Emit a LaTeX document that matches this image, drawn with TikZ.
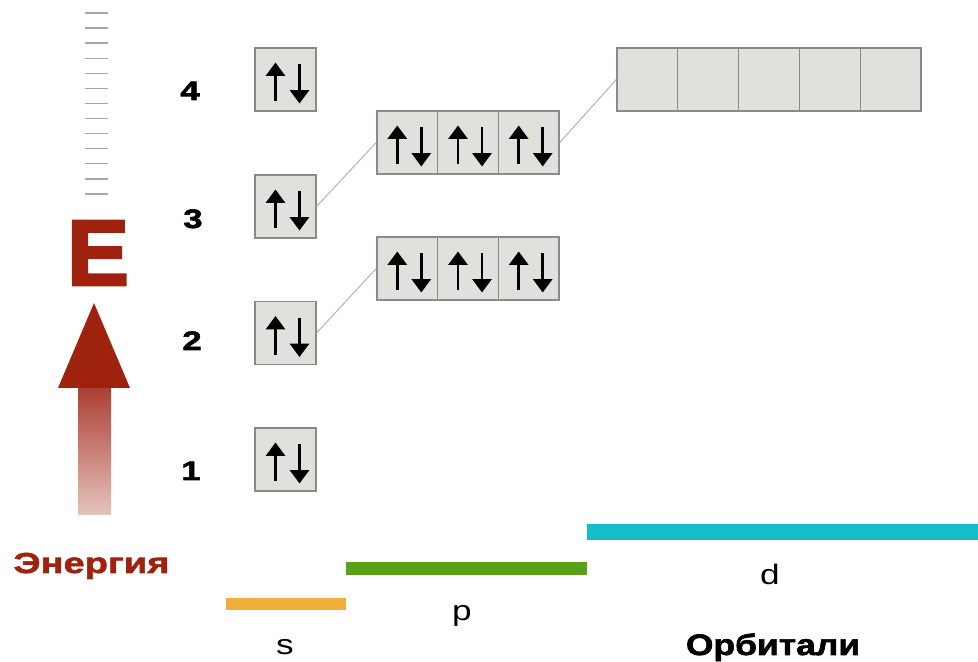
\documentclass[tikz,border=0pt]{standalone}
\usepackage{fontspec}
\setmainfont{Liberation Sans}
\newfontfamily\lblfont[FakeStretch=1.25]{Liberation Sans}
\newfontfamily\heavyfont[FakeStretch=1.2,FakeBold=2]{Liberation Sans Bold}
\newfontfamily\widefont[FakeStretch=1.32,FakeBold=2]{Liberation Sans Bold}
\newfontfamily\numfont[FakeStretch=1.3,FakeBold=2]{Liberation Sans Bold}
\newfontfamily\bigfont[FakeBold=3]{Liberation Sans Bold}
\usetikzlibrary{calc,arrows.meta,positioning}

\definecolor{energyred}{RGB}{158,34,14}
\definecolor{cellfill}{RGB}{226,224,220}
\definecolor{celldraw}{RGB}{138,138,138}
\definecolor{sbar}{RGB}{242,176,58}
\definecolor{pbar}{RGB}{88,160,22}
\definecolor{dbar}{RGB}{22,190,204}

% pair of spins in one cell
\newcommand{\spinpair}[1]{%
  \draw[spin] ($(#1.center)+(-10,-22)$) -- ($(#1.center)+(-10,17)$);
  \draw[spin] ($(#1.center)+(14,15)$) -- ($(#1.center)+(14,-24)$);
}

\begin{document}
\begin{tikzpicture}[x=0.025cm, y=0.025cm,
  cell/.style={draw=celldraw, fill=cellfill, line width=0.9pt,
    minimum width=1.52cm, minimum height=1.58cm, inner sep=0pt},
  spin/.style={line width=1.9pt, -{Triangle[width=13.5pt,length=9.5pt]}},
  link/.style={draw=gray!60, line width=0.7pt},
  tick/.style={draw=gray!70, line width=1pt},
  level/.style={anchor=base, font=\numfont\fontsize{19pt}{19pt}\selectfont},
  sub/.style={anchor=base, font=\lblfont\fontsize{20pt}{20pt}\selectfont}]

  \useasboundingbox (0,0) rectangle (978,662);

  % ---- energy scale ----
  \foreach \i in {0,...,12}
    \draw[tick] (85,{649-15.08*\i}) -- (108,{649-15.08*\i});
  \node[anchor=base, text=energyred,
    font=\bigfont\fontsize{66pt}{66pt}\selectfont] (E) at (98,377) {E};
  \shade[top color={rgb,255:red,172;green,62;blue,50},
    bottom color={rgb,255:red,228;green,196;blue,188}]
    (78,147) rectangle (111,275);
  \fill[energyred] (58,274) -- (94,359) -- (130,274) -- cycle;
  \node[anchor=base, text=energyred,
    font=\widefont\fontsize{20.5pt}{20.5pt}\selectfont] (energy) at (91.5,89) {Энергия};

  % ---- levels ----
  \node[level] (n4) at (190,562) {4};
  \node[level] (n3) at (193,434) {3};
  \node[level] (n2) at (192,312) {2};
  \node[level] (n1) at (191,182) {1};

  % ---- s cells ----
  \foreach \n/\y in {1/202.5, 2/329, 3/455.5, 4/582.5}
    \node[cell] (s\n) at (285.5,\y) {};

  % ---- p cells ----
  \foreach \n/\y in {2/393.5, 3/519.5}
    \foreach \k/\x in {a/407.3, b/468, c/528.7}
      \node[cell] (p\n\k) at (\x,\y) {};

  % ---- d cells ----
  \foreach \k/\x in {a/647.4, b/708.2, c/769, d/829.8, e/890.6}
    \node[cell] (d3\k) at (\x,582.5) {};

  % spins
  \foreach \c in {s1,s2,s3,s4,p2a,p2b,p2c,p3a,p3b,p3c}
    {\spinpair{\c}}

  % links between sublevels
  \draw[link] (s2.east) -- (p2a.west);
  \draw[link] (s3.east) -- (p3a.west);
  \draw[link] (p3c.east) -- (d3a.west);

  % ---- orbital bars ----
  \draw[sbar, line width=8.5pt] (226,58) -- (346,58);
  \draw[pbar, line width=9.2pt] (346,93.5) -- (587,93.5);
  \draw[dbar, line width=10.7pt] (587,130) -- (978,130);
  \node[sub] (slbl) at (285,7) {s};
  \node[sub] (plbl) at (462,41) {p};
  \node[sub] (dlbl) at (770,77) {d};
  \node[anchor=base, font=\heavyfont\fontsize{21pt}{21pt}\selectfont]
    (orb) at (773,7) {Орбитали};

\end{tikzpicture}
\end{document}
